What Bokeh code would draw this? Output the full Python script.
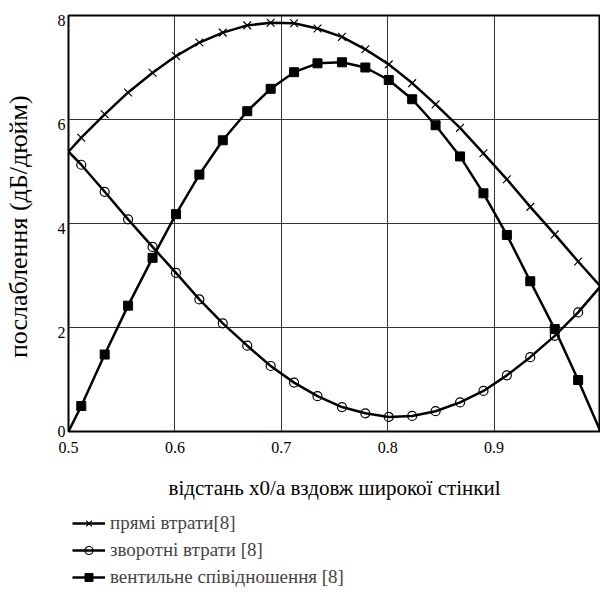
from bokeh.plotting import figure
from bokeh.layouts import column
from bokeh.models import Legend, LegendItem, FixedTicker, Range1d
from bokeh.embed import file_html
from bokeh.resources import INLINE

# ---- data ----
x_marks = [0.512, 0.534, 0.556, 0.579, 0.601, 0.623, 0.645, 0.668, 0.690, 0.712, 0.734,
           0.757, 0.779, 0.801, 0.823, 0.845, 0.868, 0.890, 0.912, 0.934, 0.957, 0.979]
x_ends = [0.5, 1.0]

forward = [5.65, 6.10, 6.52, 6.90, 7.22, 7.48, 7.67, 7.81, 7.86, 7.85, 7.75,
           7.59, 7.35, 7.06, 6.70, 6.29, 5.84, 5.35, 4.85, 4.32, 3.79, 3.27]
forward_ends = [5.38, 2.79]

reverse = [5.13, 4.61, 4.08, 3.55, 3.05, 2.54, 2.08, 1.65, 1.26, 0.94, 0.68,
           0.47, 0.35, 0.28, 0.30, 0.39, 0.56, 0.78, 1.08, 1.43, 1.84, 2.29]
reverse_ends = [5.38, 2.79]

ratio = [0.49, 1.48, 2.42, 3.34, 4.18, 4.94, 5.60, 6.16, 6.59, 6.91, 7.08,
         7.10, 7.00, 6.76, 6.39, 5.89, 5.29, 4.58, 3.78, 2.89, 1.97, 0.99]
ratio_ends = [0.0, 0.0]

x_ticks = [0.5, 0.6, 0.7, 0.8, 0.9]
y_ticks = [0, 2, 4, 6, 8]

x_label = "відстань x0/a вздовж широкої стінкиl"
y_label = "послаблення  (дБ/дюйм)"
names = ["прямі втрати[8]", "зворотні втрати [8]", "вентильне співідношення [8]"]

FONT = "Liberation Serif"

xl = [x_ends[0]] + x_marks + [x_ends[1]]
fwd_line = [forward_ends[0]] + forward + [forward_ends[1]]
rev_line = [reverse_ends[0]] + reverse + [reverse_ends[1]]
rat_line = [ratio_ends[0]] + ratio + [ratio_ends[1]]

p = figure(width=600, height=508, output_backend="svg", toolbar_location=None,
           x_range=Range1d(0.5, 1.0), y_range=Range1d(0, 8),
           min_border_left=66, min_border_right=0, min_border_top=15,
           min_border_bottom=77)
p.background_fill_color = "white"
p.border_fill_color = "white"
p.outline_line_color = "black"
p.outline_line_width = 2

LINE = dict(line_color="black", line_width=2.5)
X_M = dict(marker="x", size=11, line_color="black", line_width=1.2)
O_M = dict(marker="circle", size=9, line_color="black", fill_color=None, line_width=1.2)
S_M = dict(marker="square", size=9, line_color="black", fill_color="black")

p.line(xl, fwd_line, **LINE)
p.line(xl, rev_line, **LINE)
p.line(xl, rat_line, **LINE)
p.scatter(x_marks, forward, **X_M)
p.scatter(x_marks, reverse, **O_M)
p.scatter(x_marks, ratio, **S_M)

p.xaxis.ticker = FixedTicker(ticks=x_ticks)
p.yaxis.ticker = FixedTicker(ticks=y_ticks)
p.xgrid.ticker = FixedTicker(ticks=[0.6, 0.7, 0.8, 0.9])
p.ygrid.ticker = FixedTicker(ticks=[2, 4, 6])
for g in (p.xgrid, p.ygrid):
    g.grid_line_color = "#333333"
    g.grid_line_width = 1
for ax in (p.xaxis, p.yaxis):
    ax.axis_line_color = None
    ax.major_tick_line_color = None
    ax.minor_tick_line_color = None
    ax.major_tick_out = 0
    ax.major_tick_in = 0
    ax.major_label_text_font = FONT
    ax.major_label_text_font_size = "16px"
    ax.major_label_text_color = "black"
    ax.axis_label_text_font = FONT
    ax.axis_label_text_font_style = "normal"
    ax.axis_label_text_color = "black"
p.yaxis.major_label_overrides = {2: "\n2", 4: "\n4", 6: "\n6", 8: "\n8"}
p.yaxis.major_label_text_line_height = 0.55
p.yaxis.major_label_standoff = 3
p.xaxis.major_label_standoff = 10
p.xaxis.axis_label = x_label
p.yaxis.axis_label = y_label
p.xaxis.axis_label_text_font_size = "21px"
p.yaxis.axis_label_text_font_size = "26px"
p.xaxis.axis_label_standoff = 20
p.yaxis.axis_label_standoff = 22

# ---- legend strip below the chart (series drawn out of view, used only as legend samples) ----
lg = figure(width=600, height=84, output_backend="svg", toolbar_location=None,
            x_range=Range1d(0, 1), y_range=Range1d(-20, -10),
            min_border_left=0, min_border_right=0, min_border_top=0, min_border_bottom=0)
lg.axis.visible = False
lg.grid.visible = False
lg.outline_line_color = None
lg.background_fill_color = "white"
lg.border_fill_color = "white"
r1 = [lg.line(xl, fwd_line, **LINE), lg.scatter(x_marks, forward, **X_M)]
r2 = [lg.line(xl, rev_line, **LINE), lg.scatter(x_marks, reverse, **O_M)]
r3 = [lg.line(xl, rat_line, **LINE), lg.scatter(x_marks, ratio, **S_M)]
legend = Legend(items=[LegendItem(label=names[0], renderers=r1),
                       LegendItem(label=names[1], renderers=r2),
                       LegendItem(label=names[2], renderers=r3)],
                location="top_left", orientation="vertical",
                border_line_color=None, background_fill_alpha=0,
                label_text_font=FONT, label_text_font_size="19px",
                glyph_width=33, glyph_height=20, label_height=20,
                spacing=5, padding=2, margin=4, label_standoff=5)
lg.add_layout(legend)

layout = column(p, lg, spacing=0)
open("out.html", "w").write(file_html(layout, INLINE))
